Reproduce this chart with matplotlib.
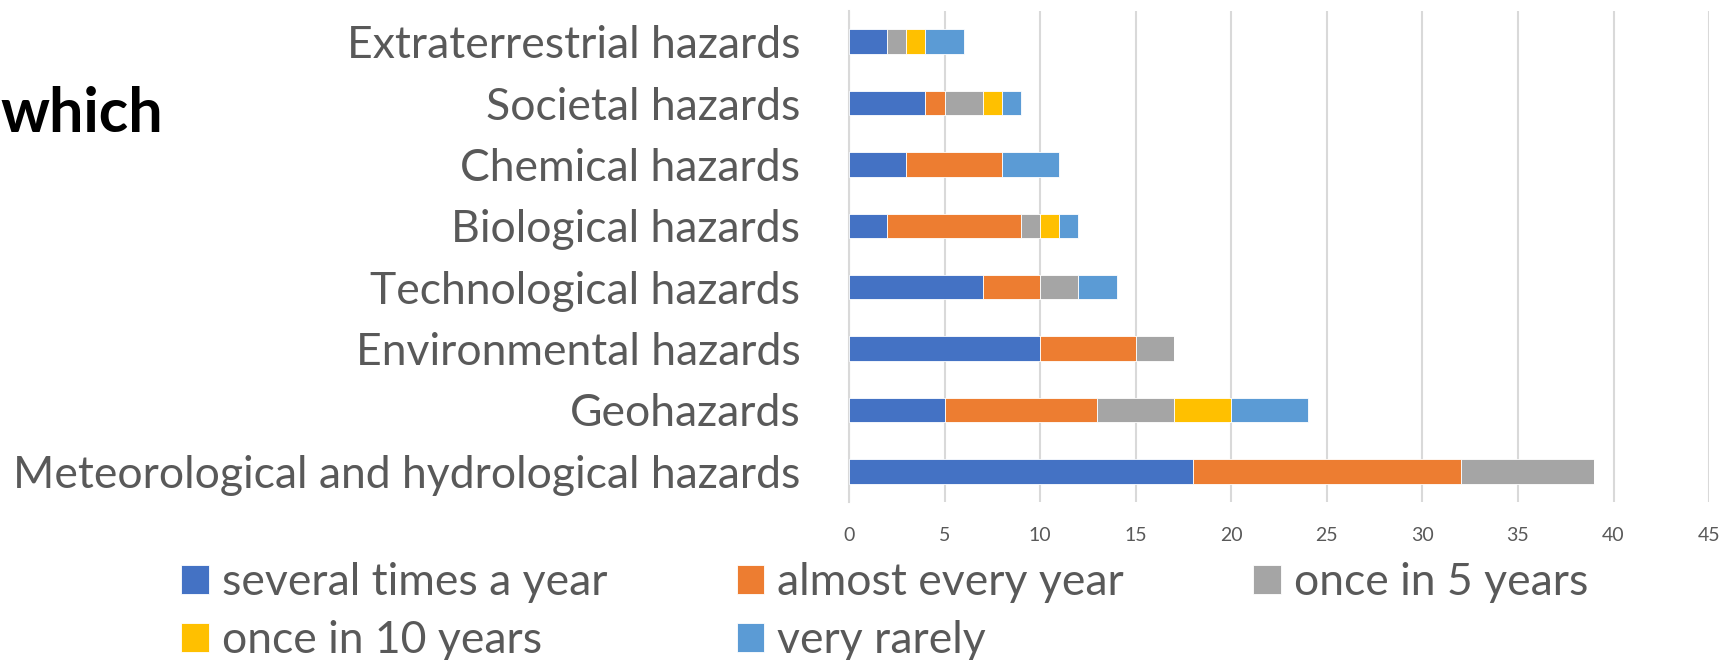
import numpy as np
import matplotlib.pyplot as plt

categories = ["Meteorological and hydrological hazards", "Geohazards",
              "Environmental hazards", "Technological hazards",
              "Biological hazards", "Chemical hazards",
              "Societal hazards", "Extraterrestrial hazards"]
series = ["several times a year", "almost every year", "once in 5 years",
          "once in 10 years", "very rarely"]
several = [18, 5, 10, 7, 2, 3, 4, 2]
almost = [14, 8, 5, 3, 7, 5, 1, 0]
five_years = [7, 4, 2, 2, 1, 0, 2, 1]
ten_years = [0, 3, 0, 0, 1, 0, 1, 1]
rarely = [0, 4, 0, 2, 1, 3, 1, 2]
colors = ["#4472C4", "#ED7D31", "#A5A5A5", "#FFC000", "#5B9BD5"]

plt.rcParams['font.family'] = ['Lato', 'DejaVu Sans']
fig = plt.figure(figsize=(17.26, 6.6), dpi=100)
ax = fig.add_axes([0.4919, 0.2394, 0.4983, 0.7439])

y = np.arange(len(categories))
left = np.zeros(len(categories))
for vals, name, c in zip([several, almost, five_years, ten_years, rarely], series, colors):
    ax.barh(y, vals, left=left, height=0.4, color=c, label=name,
            edgecolor="white", linewidth=0.6, zorder=3)
    left += np.array(vals)

ax.set_xlim(0, 45)
ax.set_ylim(-0.5, len(categories) - 0.5)
ax.set_xticks(range(0, 46, 5))
ax.set_yticks(y)
ax.set_yticklabels(categories, fontsize=32, color="#595959")
ax.tick_params(axis="y", length=0, pad=35)
ax.tick_params(axis="x", length=0, pad=18, labelsize=14, labelcolor="#595959")
ax.grid(axis="x", color="#D9D9D9", linewidth=1.5, zorder=0)
for s in ["top", "right", "bottom"]:
    ax.spines[s].set_visible(False)
ax.spines["left"].set_color("#D9D9D9")
ax.spines["left"].set_linewidth(1.5)

fig.text(0.0, 0.828, "which", fontsize=44, fontweight="bold", color="black",
         ha="left", va="center")

# legend fills column-wise; reorder so it reads row by row like the original
handles, labels = ax.get_legend_handles_labels()
order = [0, 3, 1, 4, 2]
leg = fig.legend([handles[i] for i in order], [labels[i] for i in order],
                 loc="upper left", bbox_to_anchor=(0.105, 0.148), ncol=3,
                 frameon=False, fontsize=32, handlelength=0.62, handleheight=0.62,
                 handletextpad=0.3, columnspacing=2.9, labelspacing=0.38,
                 borderaxespad=0, borderpad=0)
for t in leg.get_texts():
    t.set_color("#595959")

fig.savefig("out.png", dpi=100)
